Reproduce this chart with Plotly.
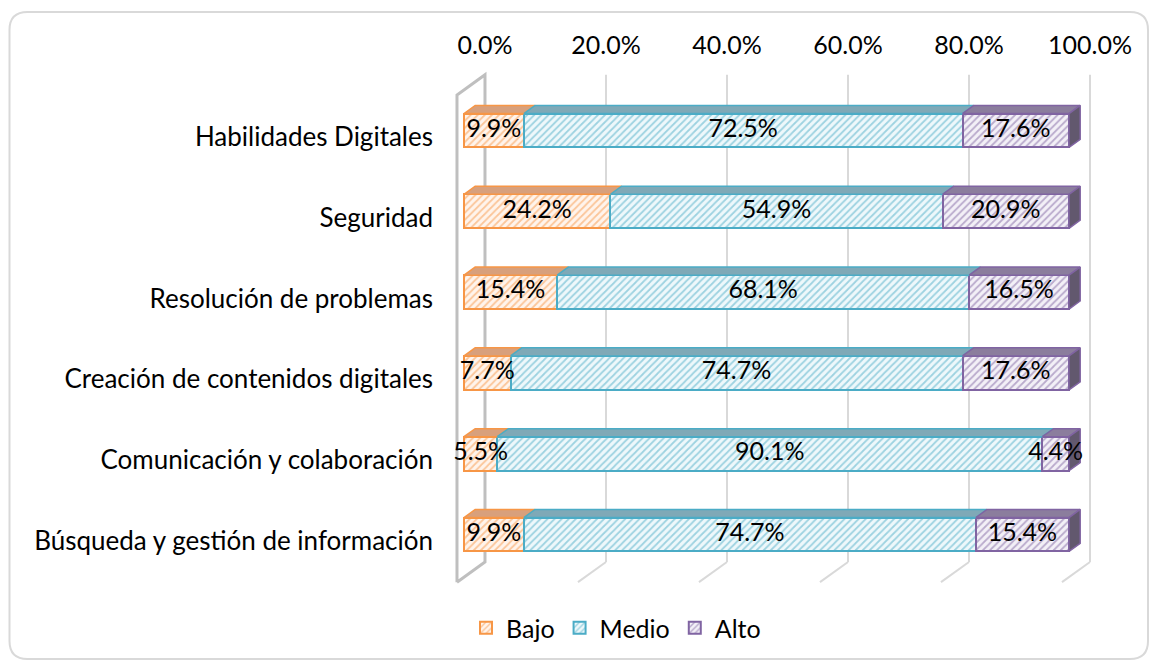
import plotly.graph_objects as go

categories = ["Búsqueda y gestión de información", "Comunicación y colaboración",
              "Creación de contenidos digitales", "Resolución de problemas",
              "Seguridad", "Habilidades Digitales"]
bajo = [9.9, 5.5, 7.7, 15.4, 24.2, 9.9]
medio = [74.7, 90.1, 74.7, 68.1, 54.9, 72.5]
alto = [15.4, 4.4, 17.6, 16.5, 20.9, 17.6]
series_names = ["Bajo", "Medio", "Alto"]
tick_vals = [0, 20, 40, 60, 80, 100]
tick_text = ["0.0%", "20.0%", "40.0%", "60.0%", "80.0%", "100.0%"]

# styling
FONT = "Lato"
FS = 25
FS_CAT = 26
colors = ["#F79646", "#4BACC6", "#8064A2"]
bg_tints = ["#FFF4EC", "#EEF8FB", "#F3F0F7"]
top_colors = ["#D8A07C", "#7FA9B7", "#8B7D9D"]
side_color = "#62586E"
BAR_W = 0.42
DX, DY = 1.85, 0.10          # depth offset of bar top/side faces (data units)
BACK = 3.47                  # x offset of back wall (data units)
WALL_DX = 28 / 6.05          # full wall depth in x units
Y_BACK_TOP, Y_BACK_BOT, Y_FRONT_BOT = 5.69, -0.34, -0.59

ypos = list(range(len(categories)))
data = [bajo, medio, alto]

fig = go.Figure()

# bars (front faces)
base = [0.0] * len(categories)
bases = []
for k, vals in enumerate(data):
    bases.append(base[:])
    fig.add_trace(go.Bar(
        y=ypos, x=vals, base=base[:], orientation="h", width=BAR_W,
        name=series_names[k],
        marker=dict(color=bg_tints[k], line=dict(color=colors[k], width=2),
                    pattern=dict(shape="/", fgcolor=colors[k], bgcolor=bg_tints[k],
                                 size=5, solidity=0.35, fillmode="overlay")),
        hoverinfo="skip",
    ))
    base = [b + v for b, v in zip(base, vals)]

# top faces and side faces, derived from the data
for k, vals in enumerate(data):
    xs, ys = [], []
    for i, v in enumerate(vals):
        x0 = bases[k][i]
        x1 = x0 + v
        yt = ypos[i] + BAR_W / 2
        xs += [x0, x1, x1 + DX, x0 + DX, x0, None]
        ys += [yt, yt, yt + DY, yt + DY, yt, None]
    fig.add_trace(go.Scatter(x=xs, y=ys, mode="lines", fill="toself",
                             fillcolor=top_colors[k],
                             line=dict(color=colors[k], width=1.5),
                             showlegend=False, hoverinfo="skip"))

xs, ys = [], []
for i in range(len(categories)):
    x1 = bajo[i] + medio[i] + alto[i]
    yb = ypos[i] - BAR_W / 2
    yt = ypos[i] + BAR_W / 2
    xs += [x1, x1, x1 + DX, x1 + DX, x1, None]
    ys += [yb, yt, yt + DY, yb + DY, yb, None]
fig.add_trace(go.Scatter(x=xs, y=ys, mode="lines", fill="toself",
                         fillcolor=side_color, line=dict(color=colors[2], width=1.5),
                         showlegend=False, hoverinfo="skip"))

# data labels on top of everything
for k, vals in enumerate(data):
    fig.add_trace(go.Scatter(
        x=[b + v / 2 for b, v in zip(bases[k], vals)], y=ypos, mode="text",
        text=[f"{v:.1f}%" for v in vals], textposition="middle center",
        textfont=dict(family=FONT, size=FS, color="black"),
        cliponaxis=False, showlegend=False, hoverinfo="skip"))

# back wall gridlines and floor lines
shapes = []
for v in tick_vals:
    bx = v + BACK
    if v != 0:
        shapes.append(dict(type="line", xref="x", yref="y", x0=bx, x1=bx,
                           y0=Y_BACK_BOT, y1=Y_BACK_TOP,
                           line=dict(color="#D9D9D9", width=2), layer="below"))
        shapes.append(dict(type="line", xref="x", yref="y", x0=bx, x1=bx - WALL_DX,
                           y0=Y_BACK_BOT, y1=Y_FRONT_BOT,
                           line=dict(color="#D9D9D9", width=2), layer="below"))
# left side wall
fx = BACK - WALL_DX
shapes.append(dict(type="path", xref="x", yref="y",
                   path=f"M {fx},{Y_FRONT_BOT} L {fx},{Y_BACK_TOP - 0.25} L {BACK},{Y_BACK_TOP} "
                        f"L {BACK},{Y_BACK_BOT} L {fx},{Y_FRONT_BOT}",
                   line=dict(color="#BFBFBF", width=3), layer="below"))

# page has an 8px body margin: work in window pixels, shift by OFF
OFF = 8
W, H = 1157 - OFF, 668 - OFF
L, R, T, B = 452 - OFF, 65, 70 - OFF, 83
pw, ph = W - L - R, H - T - B
def px(x): return (x - OFF - L) / pw
def py(y): return (H - B - (y - OFF)) / ph
x0b, x1b, y0b, y1b, r = 9.5, 1148, 12, 659, 18
path = (f"M {px(x0b + r)},{py(y0b)} L {px(x1b - r)},{py(y0b)} "
        f"Q {px(x1b)},{py(y0b)} {px(x1b)},{py(y0b + r)} "
        f"L {px(x1b)},{py(y1b - r)} Q {px(x1b)},{py(y1b)} {px(x1b - r)},{py(y1b)} "
        f"L {px(x0b + r)},{py(y1b)} Q {px(x0b)},{py(y1b)} {px(x0b)},{py(y1b - r)} "
        f"L {px(x0b)},{py(y0b + r)} Q {px(x0b)},{py(y0b)} {px(x0b + r)},{py(y0b)} Z")
shapes.append(dict(type="path", xref="paper", yref="paper", path=path,
                   line=dict(color="#D9D9D9", width=2), layer="below"))

fig.update_layout(
    width=W, height=H,
    margin=dict(l=L, r=R, t=T, b=B),
    paper_bgcolor="white", plot_bgcolor="rgba(0,0,0,0)",
    barmode="overlay", bargap=0,
    font=dict(family=FONT, size=FS, color="black"),
    shapes=shapes,
    xaxis=dict(range=[(452 - 464) / 6.05, (1092 - 464) / 6.05], side="top",
               tickvals=[v + BACK for v in tick_vals], ticktext=tick_text,
               showgrid=False, zeroline=False, showline=False, ticks="",
               ticklabelstandoff=10, fixedrange=True,
               tickfont=dict(family=FONT, size=FS)),
    yaxis=dict(range=[(534.5 - 585) / 80.8, (534.5 - 70) / 80.8],
               tickvals=[y - 0.08 for y in ypos], ticktext=categories,
               showgrid=False, zeroline=False, showline=False, ticks="",
               ticklabelstandoff=18, fixedrange=True,
               tickfont=dict(family=FONT, size=FS_CAT)),
    legend=dict(orientation="h", x=px(616), y=py(628), xanchor="center",
                yanchor="middle", font=dict(family=FONT, size=FS),
                itemwidth=30, tracegroupgap=0, traceorder="normal"),
    showlegend=True,
)

fig.write_html("out.html")
